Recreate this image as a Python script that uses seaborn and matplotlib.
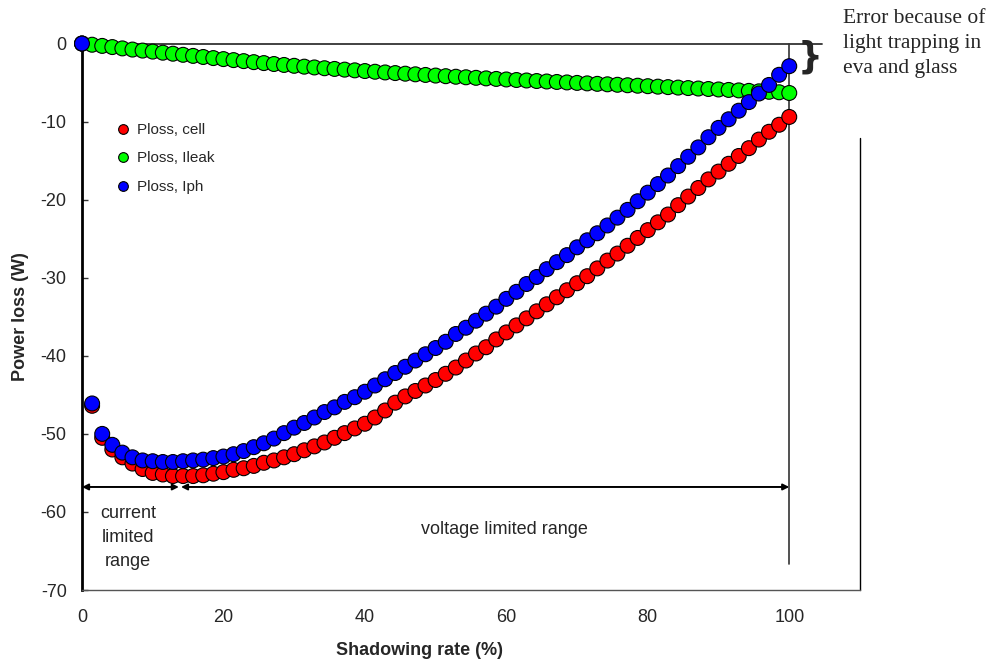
import numpy as np
import pandas as pd
import matplotlib
matplotlib.use("Agg")
import matplotlib.pyplot as plt
from matplotlib.lines import Line2D
import seaborn as sns

# ---------------- data ----------------
shadowing = [0.0, 1.43, 2.86, 4.29, 5.71, 7.14, 8.57, 10.0, 11.43, 12.86,
             14.29, 15.71, 17.14, 18.57, 20.0, 21.43, 22.86, 24.29, 25.71, 27.14,
             28.57, 30.0, 31.43, 32.86, 34.29, 35.71, 37.14, 38.57, 40.0, 41.43,
             42.86, 44.29, 45.71, 47.14, 48.57, 50.0, 51.43, 52.86, 54.29, 55.71,
             57.14, 58.57, 60.0, 61.43, 62.86, 64.29, 65.71, 67.14, 68.57, 70.0,
             71.43, 72.86, 74.29, 75.71, 77.14, 78.57, 80.0, 81.43, 82.86, 84.29,
             85.71, 87.14, 88.57, 90.0, 91.43, 92.86, 94.29, 95.71, 97.14, 98.57,
             100.0]

ploss_cell = [0.0, -46.4, -50.5, -52.0, -53.0, -53.8, -54.5, -55.0, -55.2, -55.4,
              -55.4, -55.4, -55.3, -55.1, -54.9, -54.6, -54.4, -54.1, -53.7, -53.4,
              -53.0, -52.6, -52.1, -51.6, -51.1, -50.5, -49.9, -49.3, -48.7, -47.9,
              -47.0, -46.0, -45.2, -44.5, -43.8, -43.1, -42.3, -41.5, -40.6, -39.7,
              -38.9, -37.9, -37.0, -36.1, -35.2, -34.3, -33.4, -32.5, -31.6, -30.7,
              -29.8, -28.8, -27.8, -26.9, -25.9, -24.9, -23.9, -22.9, -21.9, -20.7,
              -19.6, -18.5, -17.4, -16.4, -15.4, -14.4, -13.4, -12.3, -11.3, -10.4,
              -9.4]

ploss_ileak = [0.0, -0.15, -0.3, -0.45, -0.62, -0.77, -0.9, -1.03, -1.17, -1.3,
               -1.44, -1.58, -1.72, -1.86, -1.99, -2.12, -2.25, -2.38, -2.5, -2.62,
               -2.74, -2.85, -2.96, -3.06, -3.16, -3.25, -3.34, -3.43, -3.52, -3.61,
               -3.7, -3.78, -3.86, -3.94, -4.02, -4.1, -4.18, -4.25, -4.32, -4.39,
               -4.46, -4.53, -4.6, -4.67, -4.73, -4.8, -4.86, -4.92, -4.98, -5.04,
               -5.1, -5.16, -5.22, -5.28, -5.34, -5.4, -5.46, -5.52, -5.58, -5.64,
               -5.7, -5.76, -5.82, -5.88, -5.94, -6.0, -6.06, -6.12, -6.18, -6.24,
               -6.33]

ploss_iph = [0.0, -46.1, -50.0, -51.4, -52.4, -53.0, -53.4, -53.5, -53.6, -53.6,
             -53.5, -53.4, -53.3, -53.1, -52.9, -52.6, -52.2, -51.7, -51.2, -50.6,
             -49.9, -49.2, -48.6, -47.9, -47.2, -46.6, -45.9, -45.3, -44.6, -43.8,
             -43.0, -42.2, -41.4, -40.6, -39.8, -39.0, -38.2, -37.2, -36.4, -35.5,
             -34.6, -33.7, -32.7, -31.8, -30.8, -29.9, -28.9, -28.0, -27.1, -26.1,
             -25.2, -24.3, -23.3, -22.3, -21.3, -20.2, -19.1, -18.0, -16.9, -15.7,
             -14.5, -13.3, -12.0, -10.8, -9.7, -8.6, -7.5, -6.4, -5.3, -4.0,
             -2.9]

series_names = ["Ploss, cell", "Ploss, Ileak", "Ploss, Iph"]
series_colors = ["#FF0000", "#00FF00", "#0000FF"]
x_ticks = [0, 20, 40, 60, 80, 100]
y_ticks = [-70, -60, -50, -40, -30, -20, -10, 0]

# ---------------- figure ----------------
sns.set_style("white")
plt.rcParams["font.family"] = ["Liberation Sans", "DejaVu Sans"]
plt.rcParams["axes.unicode_minus"] = False

df = pd.concat([
    pd.DataFrame({"x": shadowing, "y": ploss_cell, "series": series_names[0]}),
    pd.DataFrame({"x": shadowing, "y": ploss_ileak, "series": series_names[1]}),
    pd.DataFrame({"x": shadowing, "y": ploss_iph, "series": series_names[2]}),
], ignore_index=True)

fig = plt.figure(figsize=(9.95, 6.64), dpi=100)
ax = fig.add_axes([0.0824, 0.1114, 0.7819, 0.823])

sns.scatterplot(data=df, x="x", y="y", hue="series",
                palette=dict(zip(series_names, series_colors)),
                s=115, edgecolor="black", linewidth=0.8, legend=False,
                ax=ax, zorder=3)
for c in ax.collections:
    c.set_clip_on(False)

ax.set_xlim(0, 110)
ax.set_ylim(-70, 0)
ax.set_xticks(x_ticks)
ax.set_yticks(y_ticks)

for s in ["top", "right"]:
    ax.spines[s].set_visible(False)
ax.spines["left"].set_linewidth(2.0)
ax.spines["left"].set_color("black")
ax.spines["bottom"].set_linewidth(1.0)
ax.spines["bottom"].set_color("#555555")

ax.tick_params(axis="y", direction="in", length=4, width=1, pad=11,
               labelsize=13, left=True, color="#333333")
ax.tick_params(axis="x", length=0, pad=14, labelsize=13)

ax.set_xlabel("Shadowing rate (%)", fontsize=13, fontweight="bold")
ax.set_ylabel("Power loss (W)", fontsize=13, fontweight="bold")
ax.xaxis.set_label_coords(0.434, -0.095)
ax.yaxis.set_label_coords(-0.068, 0.5)

# frame lines / annotations
ax.plot([0, 104.7], [0, 0], color="#333333", lw=1.3, clip_on=False, zorder=2)
ax.plot([100, 100], [0, -66.7], color="#333333", lw=1.2, clip_on=False, zorder=2)
ax.plot([110, 110], [-12.1, -70], color="black", lw=1.0, clip_on=False, zorder=2)

arrow_kw = dict(arrowstyle="<|-|>", lw=1.4, color="black",
                mutation_scale=9, shrinkA=0, shrinkB=0)
ax.annotate("", xy=(0, -56.8), xytext=(13.7, -56.8), arrowprops=arrow_kw)
ax.annotate("", xy=(14.0, -56.8), xytext=(100, -56.8), arrowprops=arrow_kw)

ax.text(6.5, -63.3, "current\nlimited\nrange", ha="center", va="center",
        fontsize=13, linespacing=1.55)
ax.text(59.7, -62.2, "voltage limited range", ha="center", va="center",
        fontsize=13)

ax.text(103.0, -1.7, "}", ha="center", va="center", fontsize=25,
        fontweight="bold", family="DejaVu Sans", clip_on=False)
fig.text(843 / 995, 1 - 9 / 664, "Error because of\nlight trapping in\neva and glass",
         family="Liberation Serif", fontsize=15.5, ha="left", va="top",
         linespacing=1.42)

handles = [Line2D([], [], marker="o", ls="", markerfacecolor=c,
                  markeredgecolor="black", markersize=7, markeredgewidth=0.8)
           for c in series_colors]
ax.legend(handles, series_names, loc="upper left",
          bbox_to_anchor=(0.035, 0.866), frameon=False, fontsize=11,
          handletextpad=0.45, labelspacing=0.95, handlelength=1.0,
          borderaxespad=0)

fig.savefig("out.png", dpi=100)
